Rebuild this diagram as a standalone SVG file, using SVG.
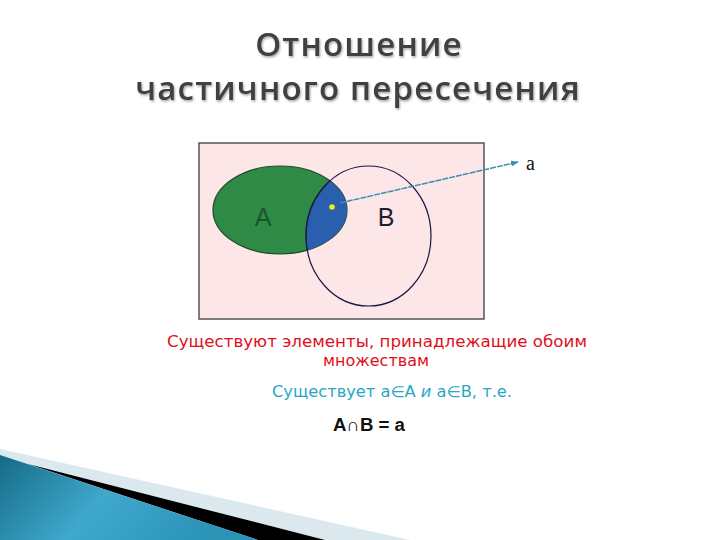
<svg xmlns="http://www.w3.org/2000/svg" width="720" height="540" viewBox="0 0 720 540">
<defs>
<linearGradient id="blueG" x1="0" y1="0" x2="1" y2="0.3">
<stop offset="0" stop-color="#156a86"/>
<stop offset="0.5" stop-color="#3fa8cc"/>
<stop offset="1" stop-color="#2a93b6"/>
</linearGradient>
<clipPath id="clipA"><ellipse cx="280" cy="210" rx="67" ry="44"/></clipPath>
<filter id="sh" x="-5%" y="-20%" width="110%" height="140%"><feDropShadow dx="1" dy="1.5" stdDeviation="0.8" flood-color="#000" flood-opacity="0.35"/></filter>
<marker id="arr" markerWidth="8" markerHeight="6" refX="7" refY="3" orient="auto" markerUnits="userSpaceOnUse"><path d="M0,0 L8,3 L0,6 Z" fill="#3a8fb0"/></marker>
<style>
.title{font-family:"Open Sans","DejaVu Sans",sans-serif;font-size:33px;font-weight:600;letter-spacing:1.2px;fill:#404040;text-anchor:middle}
.red{font-family:"DejaVu Sans",sans-serif;font-size:15px;fill:#e0101a;text-anchor:middle}
.cyan{font-family:"DejaVu Sans",sans-serif;font-size:15px;fill:#2aa7c6}
.lbl{font-family:"Liberation Sans",sans-serif;font-size:25px;text-anchor:middle}
</style>
</defs>
<rect width="720" height="540" fill="#ffffff"/>
<g id="title" filter="url(#sh)">
<text class="title" x="359" y="56">Отношение</text>
<text class="title" x="358" y="100">частичного пересечения</text>
</g>
<g id="venn">
<rect x="199" y="143" width="285" height="176" fill="#fde6e8" stroke="#555" stroke-width="1.5"/>
<ellipse cx="280" cy="210" rx="67" ry="44" fill="#2e8a45" stroke="#1f4a2a" stroke-width="1.2"/>
<ellipse cx="368.5" cy="236" rx="62.5" ry="70" fill="#2a5fae" stroke="#1a2a50" stroke-width="1.2" clip-path="url(#clipA)"/>
<ellipse cx="368.5" cy="236" rx="62.5" ry="70" fill="none" stroke="#1a1a40" stroke-width="1.2"/>
<text class="lbl" x="263" y="226" fill="#1a5530">A</text>
<text class="lbl" x="386" y="226" fill="#1a2030">B</text>
<circle cx="332" cy="207" r="2.8" fill="#e8f020"/>
</g>
<g id="connectors">
<line x1="340" y1="203" x2="518" y2="162" stroke="#3a8fb0" stroke-width="1.5" stroke-dasharray="6 1" marker-end="url(#arr)"/>
</g>
<g id="label-a">
<text x="526" y="170" font-family="Liberation Serif,serif" font-size="20" fill="#111">a</text>
</g>
<g id="text">
<text class="red" x="377" y="347" textLength="420" lengthAdjust="spacingAndGlyphs">Существуют элементы, принадлежащие обоим</text>
<text class="red" x="376" y="366" textLength="106" lengthAdjust="spacingAndGlyphs">множествам</text>
<text class="cyan" x="272" y="397" textLength="240" lengthAdjust="spacingAndGlyphs">Существует a∈A <tspan font-style="italic">и</tspan> a∈B, т.е.</text>
<text x="369" y="431" font-family="Liberation Sans,sans-serif" font-size="18" font-weight="bold" fill="#111" text-anchor="middle" textLength="72" lengthAdjust="spacingAndGlyphs">A∩B = a</text>
</g>
<g id="decor">
<polygon points="0,449 410,540 0,540" fill="#dbe9ef"/>
<polygon points="28,464 325,540 258,540" fill="#000"/>
<polygon points="0,455 258,540 0,540" fill="url(#blueG)"/>
</g>
</svg>
